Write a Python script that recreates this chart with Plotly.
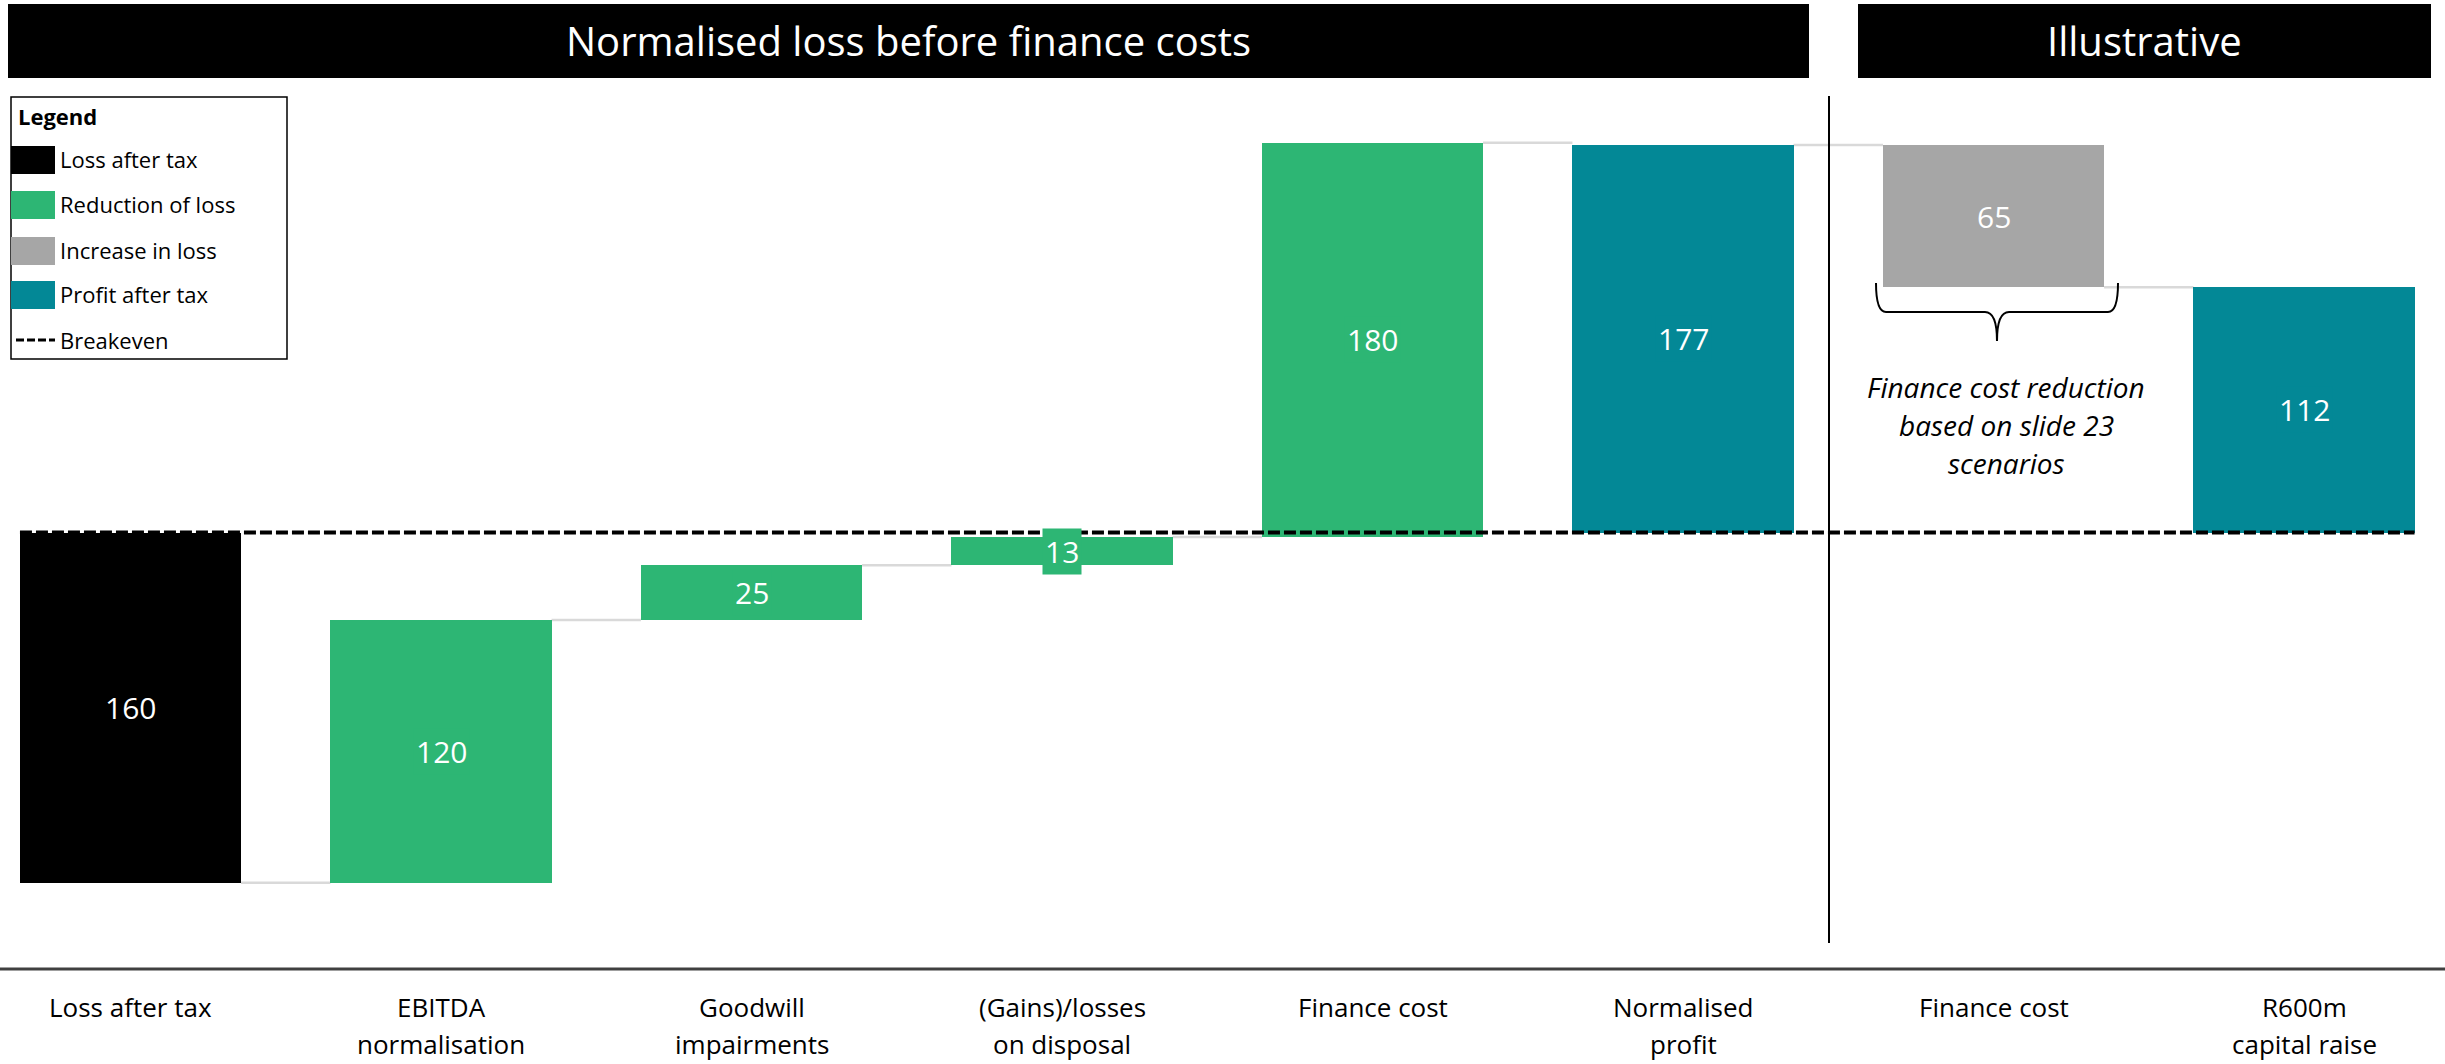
import plotly.graph_objects as go

# ---- data -------------------------------------------------------------
categories = [
    "Loss after tax",
    "EBITDA\nnormalisation",
    "Goodwill\nimpairments",
    "(Gains)/losses\non disposal",
    "Finance cost",
    "Normalised\nprofit",
    "Finance cost",
    "R600m\ncapital raise",
]
values = [-160, 120, 25, 13, 180, 177, -65, 112]
kinds = ["loss", "reduction", "reduction", "reduction", "reduction", "total", "increase", "total"]

legend_names = ["Loss after tax", "Reduction of loss", "Increase in loss", "Profit after tax"]
header_left = "Normalised loss before finance costs"
header_right = "Illustrative"
note_lines = ["Finance cost reduction", "based on slide 23", "scenarios"]

# ---- styling ----------------------------------------------------------
W, H = 2445, 1064
FONT = "Open Sans"
colors = {"loss": "#000000", "reduction": "#2DB674", "increase": "#A6A6A6", "total": "#038896"}
legend_colors = [colors["loss"], colors["reduction"], colors["increase"], colors["total"]]
BAR_W = 0.712
CONNECTOR = "#D9D9D9"


def px(x):
    return x / W


def py(y):
    return 1 - y / H


# ---- waterfall geometry ----------------------------------------------
bases, lengths, levels = [], [], []
running = 0
for v, k in zip(values, kinds):
    if k == "total":
        bases.append(0)
        lengths.append(v)
        running = v
    else:
        bases.append(running)
        lengths.append(v)
        running += v
    levels.append(running)

xs = list(range(len(values)))
bar_colors = [colors[k] for k in kinds]

fig = go.Figure()
fig.add_trace(go.Bar(
    x=xs, y=lengths, base=bases, width=BAR_W,
    marker=dict(color=bar_colors, line=dict(width=0)),
    hoverinfo="skip", showlegend=False,
))

shapes = []
annotations = []

# connectors between consecutive bars
for i in range(len(values) - 1):
    shapes.append(dict(
        type="line", xref="x", yref="y", layer="below",
        x0=i + BAR_W / 2, x1=i + 1 - BAR_W / 2, y0=levels[i], y1=levels[i],
        line=dict(color=CONNECTOR, width=2.5),
    ))

# value labels centred on each bar
for i, (b, l) in enumerate(zip(bases, lengths)):
    annotations.append(dict(
        x=i, y=b + l / 2, xref="x", yref="y", text=str(abs(values[i])),
        showarrow=False, font=dict(family=FONT, size=30, color="white"),
        bgcolor=bar_colors[i], borderpad=2,
    ))

# breakeven line
shapes.append(dict(
    type="line", xref="x", yref="y", layer="above",
    x0=-BAR_W / 2, x1=len(values) - 1 + BAR_W / 2, y0=0, y1=0,
    line=dict(color="black", width=4, dash="12px,4px"),
))

# section divider
shapes.append(dict(
    type="line", xref="paper", yref="paper",
    x0=px(1829), x1=px(1829), y0=py(96), y1=py(943),
    line=dict(color="black", width=2),
))

# header bars
for (x0, x1, txt) in [(8, 1809, header_left), (1858, 2431, header_right)]:
    shapes.append(dict(
        type="rect", xref="paper", yref="paper",
        x0=px(x0), x1=px(x1), y0=py(78), y1=py(4),
        fillcolor="black", line=dict(width=0),
    ))
    annotations.append(dict(
        x=px((x0 + x1) / 2), y=py(40), xref="paper", yref="paper", text=txt,
        showarrow=False, font=dict(family=FONT, size=40, color="white"),
        xanchor="center", yanchor="middle",
    ))

# separator above category labels
shapes.append(dict(
    type="line", xref="paper", yref="paper",
    x0=0, x1=1, y0=py(969), y1=py(969),
    line=dict(color="#404040", width=3),
))

# category labels
for i, cat in enumerate(categories):
    for j, line in enumerate(cat.split("\n")):
        annotations.append(dict(
            x=i, y=py(1007 + j * 37), xref="x", yref="paper", text=line,
            showarrow=False, font=dict(family=FONT, size=26, color="black"),
            xanchor="center", yanchor="middle",
        ))

# brace under the illustrative finance-cost bar
bl, br, bt, bm, btip = 1876, 2118, 283, 312, 341
bc = (bl + br) / 2
brace_path = (
    f"M {px(bl)},{py(bt)} Q {px(bl)},{py(bm)} {px(bl + 10)},{py(bm)} "
    f"L {px(bc - 12)},{py(bm)} Q {px(bc)},{py(bm)} {px(bc)},{py(btip)} "
    f"Q {px(bc)},{py(bm)} {px(bc + 12)},{py(bm)} "
    f"L {px(br - 10)},{py(bm)} Q {px(br)},{py(bm)} {px(br)},{py(bt)}"
)
shapes.append(dict(
    type="path", xref="paper", yref="paper", path=brace_path,
    line=dict(color="black", width=2),
))

for j, line in enumerate(note_lines):
    annotations.append(dict(
        x=px(2006), y=py(387 + j * 38), xref="paper", yref="paper",
        text=f"<i>{line}</i>", showarrow=False,
        font=dict(family=FONT, size=28, color="black"),
        xanchor="center", yanchor="middle",
    ))

# legend box
shapes.append(dict(
    type="rect", xref="paper", yref="paper",
    x0=px(11), x1=px(287), y0=py(359), y1=py(97),
    line=dict(color="black", width=1.5), fillcolor="rgba(0,0,0,0)",
))
annotations.append(dict(
    x=px(16), y=py(116), xref="paper", yref="paper", text="<b>Legend</b>",
    showarrow=False, font=dict(family=FONT, size=22, color="black"),
    xanchor="left", yanchor="middle",
))
swatch_centres = [160, 205, 251, 295]
for name, col, cy in zip(legend_names, legend_colors, swatch_centres):
    shapes.append(dict(
        type="rect", xref="paper", yref="paper",
        x0=px(11), x1=px(55), y0=py(cy + 14), y1=py(cy - 14),
        fillcolor=col, line=dict(width=0),
    ))
    annotations.append(dict(
        x=px(58), y=py(cy - 1), xref="paper", yref="paper", text=name,
        showarrow=False, font=dict(family=FONT, size=22, color="black"),
        xanchor="left", yanchor="middle",
    ))
shapes.append(dict(
    type="line", xref="paper", yref="paper",
    x0=px(16), x1=px(55), y0=py(340), y1=py(340),
    line=dict(color="black", width=3, dash="8px,3px"),
))
annotations.append(dict(
    x=px(58), y=py(340), xref="paper", yref="paper", text="Breakeven",
    showarrow=False, font=dict(family=FONT, size=22, color="black"),
    xanchor="left", yanchor="middle",
))

# axis ranges put each category 310.5 px apart with zero at 532.5 px from the top
x_step, x_first = 310.5, 130.5
y_scale, y_zero = 2.189, 532.5
fig.update_layout(
    width=W, height=H,
    margin=dict(l=0, r=0, t=0, b=0),
    paper_bgcolor="white", plot_bgcolor="white",
    xaxis=dict(range=[-x_first / x_step, (W - x_first) / x_step], visible=False, fixedrange=True),
    yaxis=dict(range=[-(H - y_zero) / y_scale, y_zero / y_scale], visible=False, fixedrange=True),
    shapes=shapes, annotations=annotations,
    bargap=0, showlegend=False,
    font=dict(family=FONT),
)

fig.write_html("out.html")
